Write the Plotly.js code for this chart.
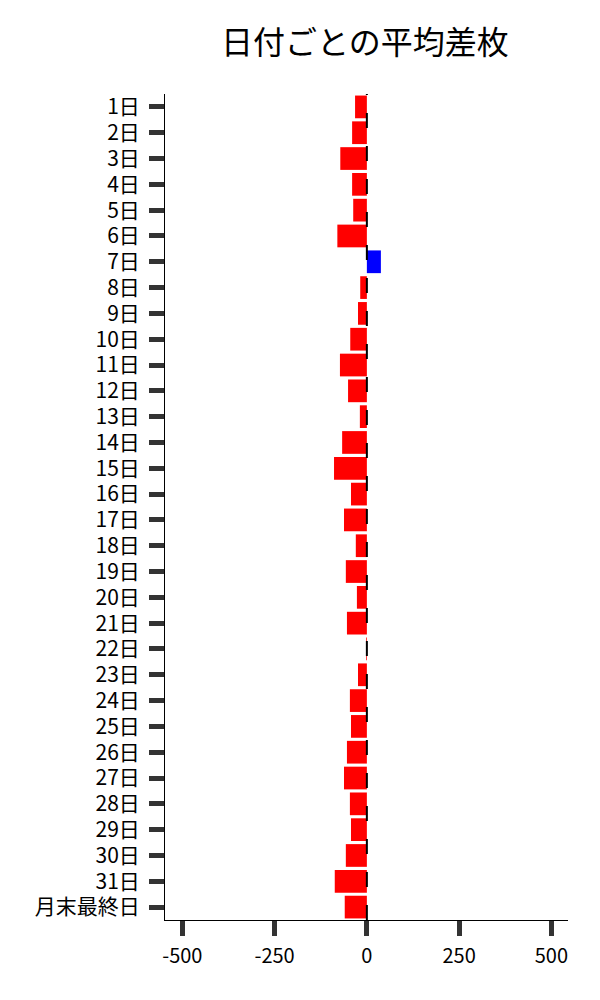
<!DOCTYPE html>
<html>
<head>
<meta charset="utf-8">
<script src="https://cdn.plot.ly/plotly-3.0.1.min.js"></script>
<style>html,body{margin:0;padding:0;background:#fff;}#chart{width:600px;height:1000px;}</style>
</head>
<body>
<div id="chart"></div>
<script>
const categories = ["1日","2日","3日","4日","5日","6日","7日","8日","9日","10日","11日","12日","13日","14日","15日","16日","17日","18日","19日","20日","21日","22日","23日","24日","25日","26日","27日","28日","29日","30日","31日","月末最終日"];
const avgDiff = [-32,-40,-72,-40,-37,-80,38,-18,-24,-45,-73,-51,-19,-67,-89,-43,-62,-30,-57,-27,-54,-2,-24,-46,-43,-54,-62,-46,-43,-57,-87,-60];
const xTicks = [-500,-250,0,250,500];

const colors = avgDiff.map(v => v >= 0 ? "#0000ff" : "#ff0000");
const FONT = "Noto Sans CJK JP, Noto Sans, sans-serif";

const trace = {
  type: "bar",
  orientation: "h",
  x: avgDiff,
  y: categories,
  marker: {color: colors, line: {width: 0}},
  hoverinfo: "x+y"
};

const layout = {
  width: 600, height: 1000,
  margin: {l: 165, r: 32, t: 94, b: 80},
  paper_bgcolor: "#fff", plot_bgcolor: "#fff",
  font: {family: FONT, size: 20, color: "#000"},
  title: {text: "日付ごとの平均差枚", font: {family: FONT, size: 32, color: "#000"}, x: 0.608, xanchor: "center", y: 0.957, yanchor: "middle"},
  bargap: 0.12,
  showlegend: false,
  xaxis: {
    range: [-547, 545],
    tickvals: xTicks,
    ticktext: xTicks.map(String),
    ticks: "outside", ticklen: 15, tickwidth: 5, tickcolor: "#333",
    ticklabelstandoff: 3,
    showline: true, linecolor: "#000", linewidth: 1,
    showgrid: false, zeroline: false,
    tickfont: {family: FONT, size: 20, color: "#000"}
  },
  yaxis: {
    type: "category",
    categoryorder: "array", categoryarray: categories,
    autorange: "reversed",
    ticks: "outside", ticklen: 15, tickwidth: 5, tickcolor: "#333",
    ticklabelstandoff: 5,
    showline: true, linecolor: "#000", linewidth: 1,
    showgrid: false, zeroline: false,
    tickfont: {family: FONT, size: 21, color: "#000"}
  },
  shapes: [{
    type: "line", xref: "x", yref: "paper",
    x0: 0, x1: 0, y0: 0, y1: 1,
    line: {color: "#000", width: 2, dash: "15px,18px"},
    layer: "above"
  }]
};

Plotly.newPlot("chart", [trace], layout, {staticPlot: true, displayModeBar: false});
</script>
</body>
</html>
